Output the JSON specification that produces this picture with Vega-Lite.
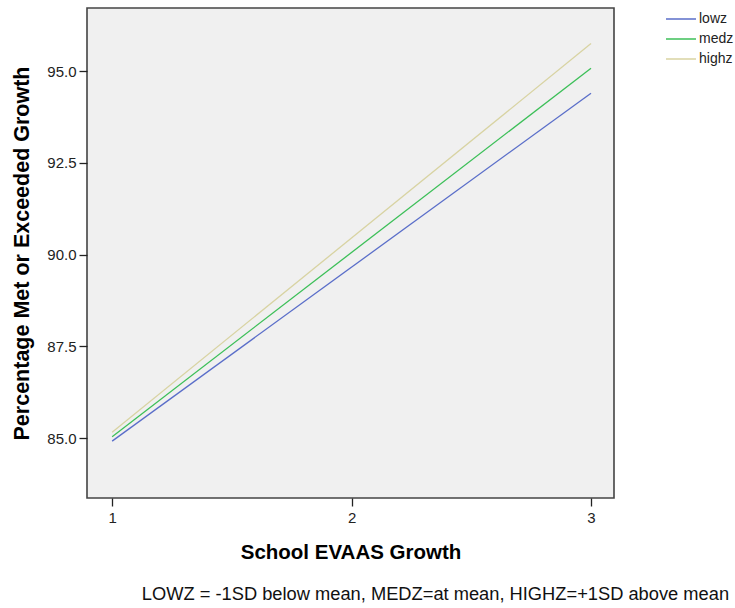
{
  "$schema": "https://vega.github.io/schema/vega-lite/v6.json",
  "width": 527,
  "height": 490,
  "autosize": "none",
  "padding": {"left": 87, "top": 8, "right": 121, "bottom": 110},
  "background": "white",
  "data": {
    "values": [
      {"growth": 1, "pct": 84.92, "group": "lowz"},
      {"growth": 3, "pct": 94.4, "group": "lowz"},
      {"growth": 1, "pct": 85.04, "group": "medz"},
      {"growth": 3, "pct": 95.08, "group": "medz"},
      {"growth": 1, "pct": 85.16, "group": "highz"},
      {"growth": 3, "pct": 95.75, "group": "highz"}
    ]
  },
  "title": {
    "text": "LOWZ = -1SD below mean, MEDZ=at mean, HIGHZ=+1SD above mean",
    "orient": "bottom",
    "anchor": "start",
    "align": "left",
    "dx": 130,
    "offset": 23,
    "font": "Liberation Sans",
    "fontSize": 18.3,
    "fontWeight": "normal",
    "color": "#111"
  },
  "mark": {"type": "line", "strokeWidth": 1.3},
  "encoding": {
    "x": {
      "field": "growth",
      "type": "quantitative",
      "scale": {"domain": [0.895, 3.096], "nice": false, "zero": false},
      "axis": {
        "title": "School EVAAS Growth",
        "values": [1, 2, 3],
        "format": "d",
        "grid": false,
        "domain": false,
        "tickSize": 8,
        "tickColor": "#222",
        "tickWidth": 1.3,
        "labelPadding": 4,
        "labelFont": "Liberation Sans",
        "labelFontSize": 15,
        "labelColor": "#222",
        "titleFont": "Liberation Sans",
        "titleFontSize": 20.5,
        "titleFontWeight": "bold",
        "titleColor": "#000",
        "titlePadding": 17
      }
    },
    "y": {
      "field": "pct",
      "type": "quantitative",
      "scale": {"domain": [83.37, 96.72], "nice": false, "zero": false},
      "axis": {
        "title": "Percentage Met or Exceeded Growth",
        "values": [85, 87.5, 90, 92.5, 95],
        "format": ".1f",
        "grid": false,
        "domain": false,
        "tickSize": 8,
        "tickColor": "#222",
        "tickWidth": 1.3,
        "labelPadding": 3,
        "labelFont": "Liberation Sans",
        "labelFontSize": 15,
        "labelColor": "#222",
        "titleFont": "Liberation Sans",
        "titleFontSize": 21.5,
        "titleFontWeight": "bold",
        "titleColor": "#000",
        "titlePadding": 13
      }
    },
    "color": {
      "field": "group",
      "type": "nominal",
      "scale": {"domain": ["lowz", "medz", "highz"], "range": ["#5a6ec9", "#3cbf58", "#d8d3a2"]},
      "legend": {
        "title": null,
        "orient": "none",
        "legendX": 578,
        "legendY": 1,
        "symbolType": "stroke",
        "symbolSize": 900,
        "symbolStrokeWidth": 1.5,
        "clipHeight": 20,
        "labelFont": "Liberation Sans",
        "labelFontSize": 14,
        "labelColor": "#222",
        "rowPadding": 0,
        "labelOffset": 2,
        "padding": 0
      }
    }
  },
  "config": {
    "view": {"fill": "#f0f0f0", "stroke": "#444", "strokeWidth": 1.6}
  }
}
